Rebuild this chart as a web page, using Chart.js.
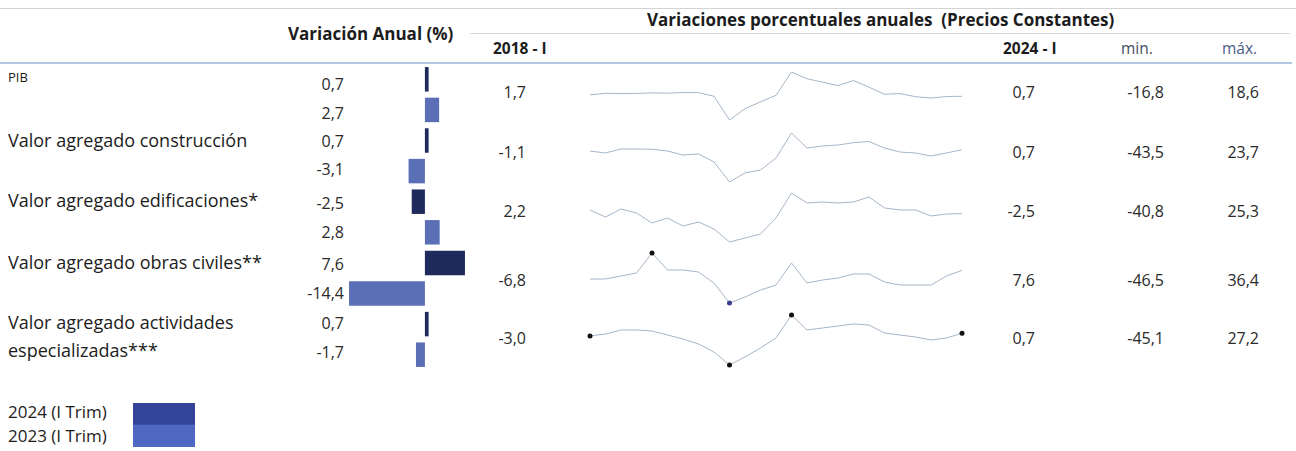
<!DOCTYPE html>
<html>
<head>
<meta charset="utf-8">
<script src="https://cdn.jsdelivr.net/npm/chart.js@4.4.1/dist/chart.umd.min.js"></script>
<style>
  body { margin: 0; background: #fff; font-family: "Open Sans", sans-serif; color: #1c1c1c; }
  #hoja { position: relative; width: 1296px; height: 451px; overflow: hidden; }
  .t { position: absolute; white-space: pre; line-height: 20px; font-size: 18px; }
  .n { position: absolute; white-space: nowrap; line-height: 20px; font-size: 16px; text-align: right; width: 80px; color: #2a2a2a; }
  .b { font-weight: 700; font-size: 17px; }
  .linea { position: absolute; height: 1px; background: #cfcfcf; }
  canvas { position: absolute; }
</style>
</head>
<body>
<div id="hoja"></div>
<script>
// filas de la tabla
const filas = ['PIB', 'Valor agregado construcción', 'Valor agregado edificaciones*',
  'Valor agregado obras civiles**', 'Valor agregado actividades|especializadas***'];
const anual2024 = [0.7, 0.7, -2.5, 7.6, 0.7];
const anual2023 = [2.7, -3.1, 2.8, -14.4, -1.7];

const trimestres = ['2018-I', '2018-II', '2018-III', '2018-IV', '2019-I', '2019-II', '2019-III', '2019-IV',
  '2020-I', '2020-II', '2020-III', '2020-IV', '2021-I', '2021-II', '2021-III', '2021-IV',
  '2022-I', '2022-II', '2022-III', '2022-IV', '2023-I', '2023-II', '2023-III', '2023-IV', '2024-I'];

// variaciones anuales trimestrales
const serPIB = [1.7, 2.9, 2.7, 2.8, 3.2, 3.0, 3.4, 3.4, 0.7, -16.8, -8.5, -3.4, 1.4, 18.6, 13.6, 11.1,
  8.6, 12.3, 7.4, 2.2, 2.7, 0.4, -0.6, 0.5, 0.7];
const serConstruccion = [-1.1, -3.7, 1.8, 1.8, 1.5, -1.0, -6.5, -5.1, -16.0, -43.5, -31.0, -27.0, -10.6, 23.7, 3.1, 5.9,
  7.2, 10.4, 12.0, 3.1, -2.4, -3.7, -7.9, -3.7, 0.7];
const serEdificaciones = [2.2, -7.1, 3.7, -1.7, -15.2, -8.4, -19.2, -13.8, -23.3, -40.8, -35.4, -30.0, -8.4, 25.3, 11.8, 13.2,
  11.8, 13.2, 19.9, 5.1, 2.4, 2.4, -5.7, -3.0, -2.5];
const serObrasCiviles = [-6.8, -6.7, -1.7, 3.2, 36.4, 8.2, 8.2, 4.9, -13.4, -46.5, -36.6, -25.0, -16.7, 19.8, -13.4, -8.4,
  -5.1, 1.6, 1.6, -11.7, -16.7, -16.7, -16.7, -1.7, 7.6];
const serActividades = [-3.0, -0.3, 5.5, 5.5, 4.1, -1.7, -7.5, -14.7, -26.3, -45.1, -33.5, -20.5, -6.0, 27.2, 5.5, 8.4,
  11.3, 14.2, 12.7, 1.2, -1.7, -4.6, -8.9, -6.0, 0.7];
const series = [serPIB, serConstruccion, serEdificaciones, serObrasCiviles, serActividades];

const color2024 = '#1f2a5c';
const color2023 = '#5a6fb6';

const hoja = document.getElementById('hoja');
function fmt(v) { return v.toFixed(1).replace('.', ','); }
function texto(cls, txt, x, y, extra) {
  const d = document.createElement('div');
  d.className = cls;
  d.textContent = txt;
  d.style.left = x + 'px';
  d.style.top = (y - 10) + 'px';
  if (extra) Object.assign(d.style, extra);
  hoja.appendChild(d);
  return d;
}
function linea(x, y, w, c, h) {
  const d = document.createElement('div');
  d.className = 'linea';
  d.style.left = x + 'px'; d.style.top = y + 'px'; d.style.width = w + 'px';
  if (c) d.style.background = c;
  if (h) d.style.height = h + 'px';
  hoja.appendChild(d);
}

// encabezados
linea(0, 8, 1296, '#d4d4d4');
linea(470, 33, 820, '#d8d8d8');
linea(0, 62, 1292, '#b3c7e3', 2);
texto('t b', 'Variaciones porcentuales anuales  (Precios Constantes)', 647, 20);
texto('t b', 'Variación Anual (%)', 288, 34);
texto('t b', '2018 - I', 493, 48, { fontSize: '15.5px' });
texto('t b', '2024 - I', 1003, 48, { fontSize: '15.5px' });
texto('t', 'min.', 1121, 48, { color: '#3f4c63', fontSize: '15.5px' });
texto('t', 'máx.', 1222, 48, { color: '#4a5d86', fontSize: '15.5px' });

// etiquetas de filas
const yEtiqueta = [77, 140, 200, 262, 322];
filas.forEach((f, i) => {
  const partes = f.split('|');
  texto('t', partes[0], 8, yEtiqueta[i], i === 0 ? { fontSize: '13px' } : null);
  if (partes[1]) texto('t', partes[1], 8, yEtiqueta[i] + 28);
});

// valores de variacion anual
const yValor = [84, 113, 141, 169, 203, 232, 264, 293, 323, 352];
anual2024.forEach((v, i) => {
  texto('n', fmt(v), 264, yValor[2 * i]);
  texto('n', fmt(anual2023[i]), 264, yValor[2 * i + 1]);
});

// columnas de la derecha
const yFila = [92, 152, 211, 280, 338];
series.forEach((s, i) => {
  texto('n', fmt(s[0]), 446, yFila[i]);
  texto('n', fmt(s[s.length - 1]), 955, yFila[i]);
  texto('n', fmt(Math.min(...s)), 1084, yFila[i]);
  texto('n', fmt(Math.max(...s)), 1179, yFila[i]);
});

// leyenda
texto('t', '2024 (I Trim)', 8, 412, { fontSize: '17px' });
texto('t', '2023 (I Trim)', 8, 436, { fontSize: '17px' });

function lienzo(x, y, w, h) {
  const c = document.createElement('canvas');
  c.width = w; c.height = h;
  c.style.left = x + 'px'; c.style.top = y + 'px';
  c.style.width = w + 'px'; c.style.height = h + 'px';
  hoja.appendChild(c);
  return c;
}

// barras de variacion anual
new Chart(lienzo(348, 64, 118, 306), {
  type: 'bar',
  data: {
    labels: filas,
    datasets: [
      { label: '2024 (I Trim)', data: anual2024, backgroundColor: color2024 },
      { label: '2023 (I Trim)', data: anual2023, backgroundColor: color2023 }
    ]
  },
  options: {
    indexAxis: 'y',
    responsive: false,
    animation: false,
    categoryPercentage: 1,
    barPercentage: 0.8,
    plugins: { legend: { display: false }, tooltip: { enabled: false } },
    scales: {
      x: { display: false, min: -14.6, max: 7.8 },
      y: { display: false }
    }
  }
});

// leyenda: muestras de color
new Chart(lienzo(133, 403, 62, 44), {
  type: 'bar',
  data: {
    labels: ['a', 'b'],
    datasets: [{ data: [1, 1], backgroundColor: ['#34449a', '#4f69c2'] }]
  },
  options: {
    indexAxis: 'y', responsive: false, animation: false,
    categoryPercentage: 1, barPercentage: 1,
    plugins: { legend: { display: false }, tooltip: { enabled: false } },
    scales: { x: { display: false, min: 0, max: 1 }, y: { display: false } }
  }
});

// minigraficos
const filaArriba = [72, 133, 193, 253, 315];
const filaAlto = [48, 49, 49, 50, 50];
const marcas = [
  {}, {}, {},
  { 4: '#111', 9: '#3a3f8f' },
  { 0: '#111', 9: '#111', 13: '#111', 24: '#111' }
];
series.forEach((s, i) => {
  new Chart(lienzo(584, filaArriba[i] - 4, 384, filaAlto[i] + 8), {
    type: 'line',
    data: {
      labels: trimestres,
      datasets: [{
        data: s,
        borderColor: '#a6b6c8',
        borderWidth: 1,
        tension: 0,
        clip: false,
        pointRadius: ctx => marcas[i][ctx.dataIndex] ? 2.5 : 0,
        pointBackgroundColor: ctx => marcas[i][ctx.dataIndex] || '#111',
        pointBorderWidth: 0
      }]
    },
    options: {
      responsive: false,
      animation: false,
      layout: { padding: { left: 6, right: 6, top: 4, bottom: 4 } },
      plugins: { legend: { display: false }, tooltip: { enabled: false } },
      scales: {
        x: { display: false },
        y: { display: false, min: Math.min(...s), max: Math.max(...s) }
      }
    }
  });
});
</script>
</body>
</html>
